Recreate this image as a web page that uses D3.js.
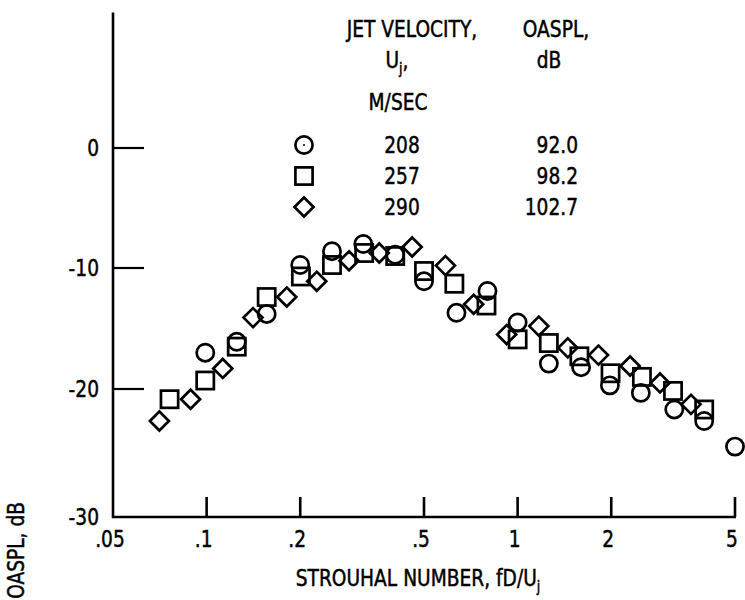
<!DOCTYPE html>
<html>
<head>
<meta charset="utf-8">
<script src="https://cdn.jsdelivr.net/npm/d3@7/dist/d3.min.js"></script>
<style>
  html, body { margin: 0; padding: 0; background: #fff; }
  svg { display: block; }
  text { font-family: "DejaVu Sans Condensed", "Liberation Sans Narrow", sans-serif; fill: #000; stroke: #000; stroke-width: 0.45px; }
</style>
</head>
<body>
<svg id="chart" width="745" height="600"></svg>
<script>
// ---- data ----
const xTickValues = [0.05, 0.1, 0.2, 0.5, 1, 2, 5];
const xTickLabels = [".05", ".1", ".2", ".5", "1", "2", "5"];
const yTickValues = [0, -10, -20, -30];
const yTickLabels = ["0", "-10", "-20", "-30"];

const velocities = ["208", "257", "290"];
const oaspl = ["92.0", "98.2", "102.7"];
const symbols = ["circle", "square", "diamond"];

// Strouhal number / relative SPL, dB
const s208x = [0.099, 0.125, 0.156, 0.20, 0.253, 0.319, 0.404, 0.50, 0.636, 0.80, 1.0, 1.26, 1.6, 1.98, 2.49, 3.19, 3.98, 5.0];
const s208y = [-17.0, -16.1, -13.8, -9.75, -8.6, -8.0, -8.9, -11.1, -13.7, -11.9, -14.5, -17.9, -18.2, -19.7, -20.3, -21.6, -22.5, -24.5];

const s257x = [0.076, 0.099, 0.125, 0.156, 0.201, 0.253, 0.321, 0.404, 0.50, 0.626, 0.794, 1.0, 1.26, 1.58, 1.99, 2.51, 3.16, 3.98];
const s257y = [-20.8, -19.3, -16.5, -12.4, -10.7, -9.75, -8.75, -9.0, -10.25, -11.3, -13.1, -15.9, -16.2, -17.3, -18.7, -19.0, -20.15, -21.6];

const s290x = [0.0705, 0.0888, 0.1127, 0.141, 0.181, 0.226, 0.287, 0.359, 0.458, 0.586, 0.722, 0.922, 1.17, 1.45, 1.82, 2.3, 2.87, 3.61];
const s290y = [-22.5, -20.8, -18.3, -14.1, -12.4, -11.1, -9.4, -8.75, -8.25, -9.8, -13.0, -15.5, -14.8, -16.6, -17.2, -18.1, -19.5, -21.2];

const yAxisTopValue = 11.3;

// ---- drawing ----
const svg = d3.select("#chart");
const x = d3.scaleLog().domain([0.05, 5]).range([113, 735]);
const y = d3.scaleLinear().domain([-30, -20, -10, 0]).range([517, 389, 268, 148]);

const FS = 22.5;
const SX = 0.92;
const SW = 2.7;

// condensed text helper
function label(parent, tx, ty, str, anchor) {
  const t = parent.append("text")
    .attr("transform", `translate(${tx},${ty}) scale(${SX},1)`)
    .attr("text-anchor", anchor || "middle")
    .attr("font-size", FS);
  if (str !== null) t.text(str);
  return t;
}

// axes lines
svg.append("line")
  .attr("x1", x(0.05)).attr("x2", x(0.05))
  .attr("y1", y(yAxisTopValue)).attr("y2", y(-30) + 1)
  .attr("stroke", "#000").attr("stroke-width", 2.6);
svg.append("line")
  .attr("x1", x(0.05) - 1).attr("x2", x(5) + 1)
  .attr("y1", y(-30)).attr("y2", y(-30))
  .attr("stroke", "#000").attr("stroke-width", 2.6);

// y ticks
svg.selectAll(".ytick").data(yTickValues.filter(v => v > -30)).enter()
  .append("line")
  .attr("x1", x(0.05)).attr("x2", x(0.05) + 31)
  .attr("y1", d => y(d)).attr("y2", d => y(d))
  .attr("stroke", "#000").attr("stroke-width", 2.2);
yTickValues.forEach((v, i) => label(svg, x(0.05) - 14, y(v) + 8, yTickLabels[i], "end"));

// x ticks
svg.selectAll(".xtick").data(xTickValues.filter(v => v > 0.05)).enter()
  .append("line")
  .attr("x1", d => x(d)).attr("x2", d => x(d))
  .attr("y1", y(-30)).attr("y2", y(-30) - 20)
  .attr("stroke", "#000").attr("stroke-width", 2.6);
xTickValues.forEach((v, i) => label(svg, x(v) - 3, y(-30) + 30, xTickLabels[i], "middle"));

// axis titles
const xt = label(svg, 418, 586, null, "middle");
xt.append("tspan").text("STROUHAL NUMBER, fD/U");
xt.append("tspan").attr("font-size", 15).attr("dy", 6).text("j");

svg.append("text")
  .attr("transform", `translate(24,502) rotate(-90) scale(${SX},1)`)
  .attr("text-anchor", "end")
  .attr("font-size", FS)
  .text("OASPL, dB");

// marker drawing
function drawMarker(g, type, cx, cy, dot, fill) {
  if (type === "circle") {
    g.append("circle").attr("cx", cx).attr("cy", cy).attr("r", 8.6)
      .attr("fill", fill).attr("stroke", "#000").attr("stroke-width", SW);
    if (dot) g.append("circle").attr("cx", cx).attr("cy", cy).attr("r", 1).attr("fill", "#000");
  } else if (type === "square") {
    g.append("rect").attr("x", cx - 8.6).attr("y", cy - 8.6).attr("width", 17.2).attr("height", 17.2)
      .attr("fill", fill).attr("stroke", "#000").attr("stroke-width", SW);
  } else {
    const h = 9.5;
    g.append("path")
      .attr("d", `M${cx},${cy - h}L${cx + h},${cy}L${cx},${cy + h}L${cx - h},${cy}Z`)
      .attr("fill", fill).attr("stroke", "#000").attr("stroke-width", SW);
  }
}

const series = [
  { xs: s208x, ys: s208y, sym: "circle" },
  { xs: s257x, ys: s257y, sym: "square" },
  { xs: s290x, ys: s290y, sym: "diamond" }
];
const gData = svg.append("g");
series.forEach(s => {
  s.xs.forEach((xv, i) => drawMarker(gData.append("g"), s.sym, x(xv), y(s.ys[i]), false, "none"));
});

// legend
const legRowsY = [145, 176, 207];
const lg = svg.append("g");
label(lg, 412, 37, "JET VELOCITY,", "middle");
label(lg, 556, 37, "OASPL,", "middle");
const uj = label(lg, 397, 68, null, "middle");
uj.append("tspan").text("U");
uj.append("tspan").attr("font-size", 15).attr("dy", 6).text("j");
uj.append("tspan").attr("dy", -6).text(",");
label(lg, 549, 68, "dB", "middle");
label(lg, 398, 110, "M/SEC", "middle");

velocities.forEach((v, i) => {
  drawMarker(lg, symbols[i], 304, legRowsY[i], i === 0, "none");
  label(lg, 402, legRowsY[i] + 8, v, "middle");
  label(lg, 578, legRowsY[i] + 8, oaspl[i], "end");
});
</script>
</body>
</html>
